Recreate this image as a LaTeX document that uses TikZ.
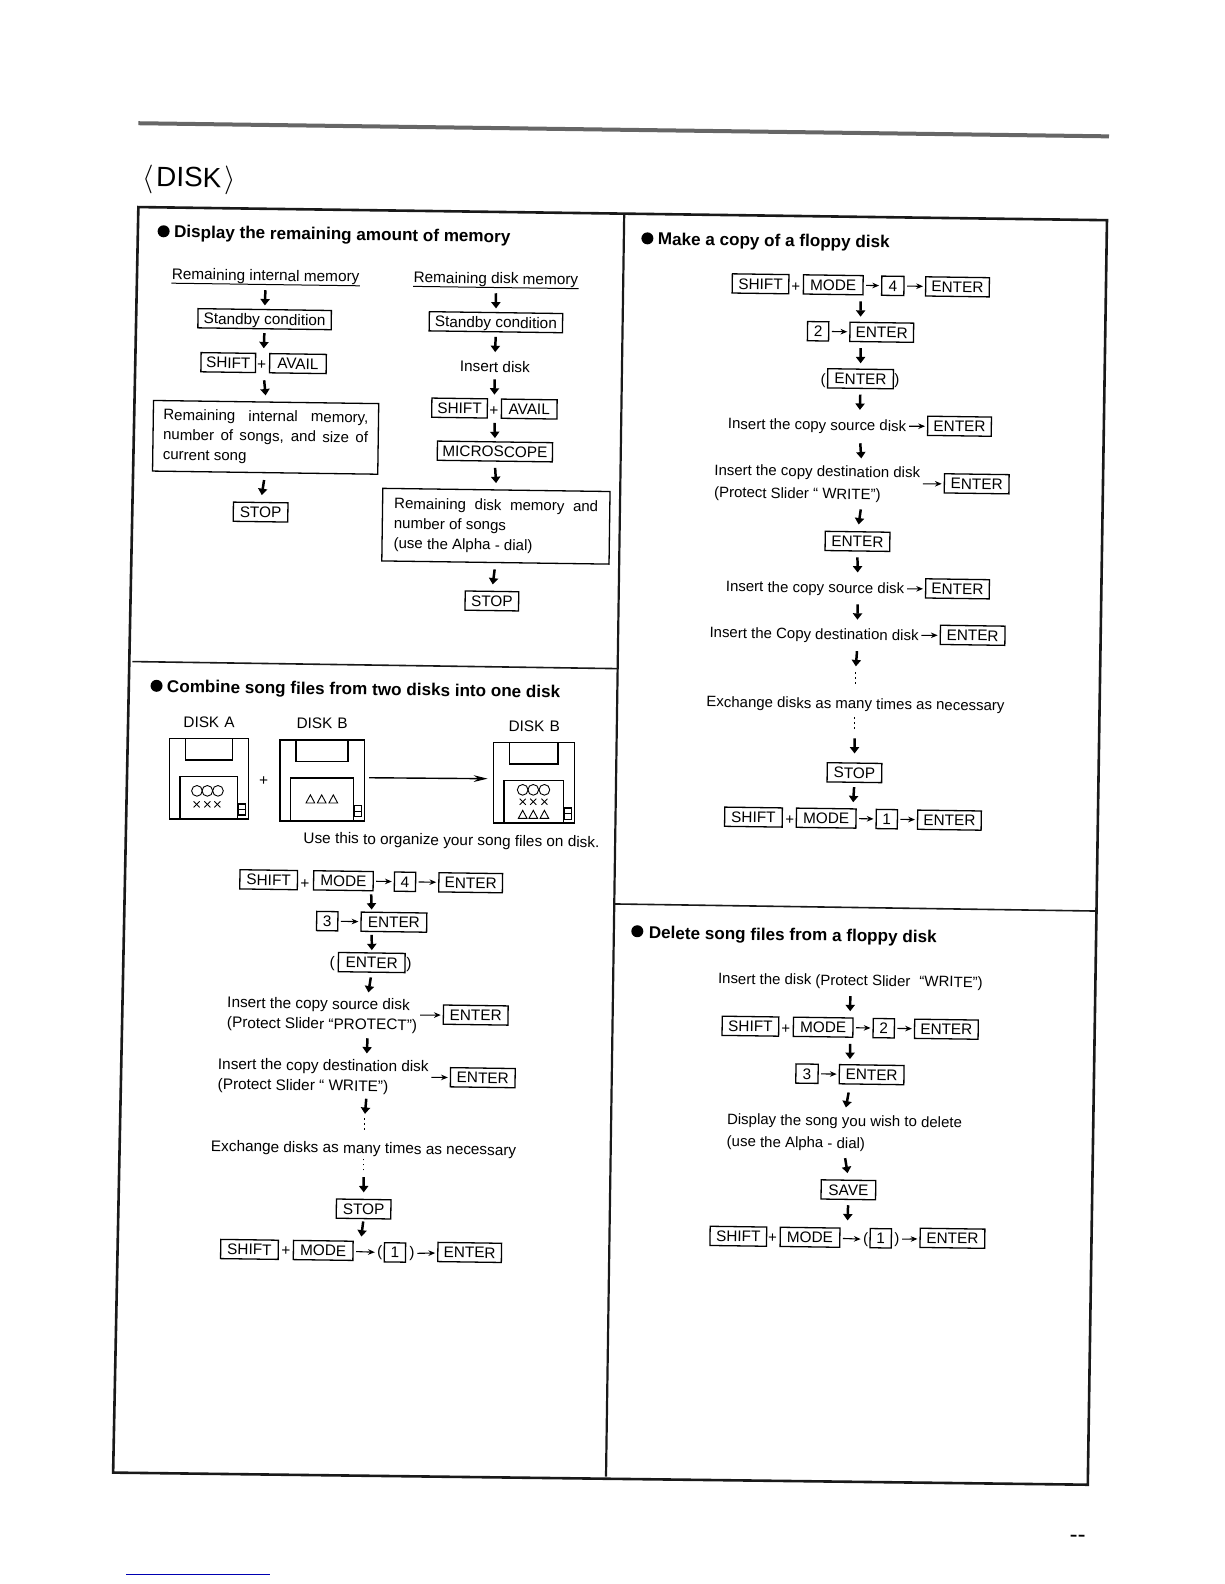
\documentclass[tikz,border=0pt]{standalone}
\usepackage{fontspec}
\setmainfont{Liberation Sans}
\usetikzlibrary{arrows.meta,fit,calc}

\newcommand{\bodyfont}{\fontsize{7.7}{10.1}\selectfont}
\newcommand{\bodyfontr}{\fontsize{7.52}{10.6}\selectfont}
\newcommand{\keyfont}{\fontsize{7.7}{9}\selectfont}
\newcommand{\stackdots}{\vbox{\hrule width0.8bp height0.8bp\vskip1.7bp\hrule width0.8bp height0.8bp\vskip1.7bp\hrule width0.8bp height0.8bp}}
% fixed length arrow in the middle of the gap between two nodes
\newcommand{\flowto}[3][0bp]{\draw[flow, yshift=#1] ($(#2.south)!.5!(#3.north)!-3.8bp!(#3.north)$) -- ($(#2.south)!.5!(#3.north)!3.8bp!(#3.north)$);}

\tikzset{
  keybox/.style={draw, line width=0.65pt, inner sep=0pt, minimum width=#1*0.505bp, minimum height=9.6bp, text height=5.5bp, text depth=0pt, rotate=-0.8, font=\keyfont},
  msg/.style={inner sep=0pt, minimum height=9.6bp, yshift=-1bp, rotate=-0.8, align=left, font=\bodyfont},
  msgr/.style={msg, font=\bodyfontr},
  msgbox/.style={draw, line width=0.65pt, inner sep=0pt, minimum width=#1*0.505bp, rotate=-0.8, align=left, font=\fontsize{7.55}{10}\selectfont},
  head/.style={anchor=west, inner sep=0pt, rotate=-0.8, font=\fontsize{8.58}{10}\selectfont\bfseries},
  headdot/.style={circle, fill, inner sep=0pt, minimum size=6bp},
  rowfit/.style={inner sep=0pt},
  vdotsmark/.style={inner sep=0pt},
  flow/.style={-{Triangle[width=4.6pt,length=3.2pt]}, line width=1.25pt},
  hop/.style={-{Stealth[width=2.8pt,length=3.4pt]}, line width=0.55pt, shorten <=1.2bp, shorten >=1bp},
  frame/.style={line width=1.3bp, black!90},
  floppy/.style={draw, line width=0.7bp, inner sep=0pt}
}

\begin{document}
\begin{tikzpicture}[x=0.505bp, y=-0.505bp]
    \useasboundingbox (0,0) rectangle (1212,1568.3);

    % Top rule and title
    \draw[line width=2bp, black!60] (137,122) -- (1098,135);
    \node[inner sep=0pt, font=\fontsize{14}{15}\selectfont, rotate=-0.8] (title) at (187,178) {$\langle$\kern1.5bp DISK\kern1.5bp$\rangle$};

    % Panels
    \draw[frame] (137,205) -- (1096,218) -- (1077,1470) -- (112,1458) -- cycle;
    \draw[frame, line width=1.1bp] (618,213) -- (600,1462);
    \draw[frame, line width=0.8bp] (131,655) -- (612,662);
    \draw[frame, line width=0.8bp] (609,895) -- (1085,902);

    % Remaining memory
    \node[headdot] (memdot) at (162,229) {};
    \node[head] (memhead) at (172,231) {Display the remaining amount of memory};

    \node[msg] (intitle) at (263,272) {Remaining internal memory};
    \draw[line width=0.5bp] ([yshift=-1.9bp]intitle.base west) -- ([yshift=-1.9bp]intitle.base east);
    \node[keybox=132] (instby) at (262,316) {Standby condition};
    \node[keybox=54] (inshift) at (226,359) {SHIFT};
    \node[msg] (inplus) at (259,360) {+};
    \node[keybox=56] (inavail) at (295,360) {AVAIL};
    \node[rowfit, fit=(inshift)(inavail)] (inrow) {};
    \node[msgbox=223, minimum height=35.3bp] (inbox) at (263,433) {\makebox[102.5bp][s]{Remaining internal memory,}\\\makebox[102.5bp][s]{number of songs, and size of}\\\makebox[102.5bp][l]{current song}};
    \node[keybox=54] (instop) at (258,507) {STOP};
    \foreach \a/\b in {intitle/instby, instby/inrow, inrow/inbox}
      {\flowto{\a}{\b}}
    \flowto[-1.7bp]{inbox}{instop}

    \node[msg] (dtitle) at (491,275) {Remaining disk memory};
    \draw[line width=0.5bp] ([yshift=-1.9bp]dtitle.base west) -- ([yshift=-1.9bp]dtitle.base east);
    \node[keybox=132] (dstby) at (491,319) {Standby condition};
    \node[msg] (dinsert) at (490,361) {Insert disk};
    \node[keybox=55] (dshift) at (455,404) {SHIFT};
    \node[msg] (dplus) at (489,405) {+};
    \node[keybox=55] (davail) at (524,405) {AVAIL};
    \node[rowfit, fit=(dshift)(davail)] (drow) {};
    \node[keybox=114] (dmicro) at (490,447) {MICROSCOPE};
    \node[msgbox=225, minimum height=36.3bp] (dbox) at (491,521) {\makebox[102bp][s]{Remaining disk memory and}\\\makebox[102bp][l]{number of songs}\\\makebox[102bp][l]{(use the Alpha - dial)}};
    \node[keybox=53] (dstop) at (487,595) {STOP};
    \foreach \a/\b in {dtitle/dstby, dstby/dinsert, dinsert/drow, drow/dmicro, dmicro/dbox}
      {\flowto{\a}{\b}}
    \flowto[-1.7bp]{dbox}{dstop}

    % Combine song files
    \node[headdot] (cmbdot) at (155,679) {};
    \node[head] (cmbhead) at (165,681) {Combine song files from two disks into one disk};

    \node[msg] (labela) at (207,713) {DISK\,\,A};
    \node[msg] (labelb) at (319,714) {DISK\,\,B};
    \node[msg] (labelc) at (529,717) {DISK\,\,B};
    \foreach \nm/\xa/\ya/\dw in {diska/167.6/731/78.3, diskb/277.2/732.7/83.5, diskc/488.4/735/80.2} {
      \node[floppy, minimum width=\dw*0.505bp, minimum height=80*0.505bp] (\nm) at (\xa+\dw/2,\ya+40) {};
      \draw[line width=0.7bp] (\xa+16,\ya) -- (\xa+16,\ya+21.5) -- (\xa+\dw-16,\ya+21.5) -- (\xa+\dw-16,\ya);
      \draw[line width=0.7bp] (\xa+10.5,\ya+80) -- (\xa+10.5,\ya+37.5) -- (\xa+\dw-10.8,\ya+37.5) -- (\xa+\dw-10.8,\ya+80);
      \draw[line width=0.6bp] (\xa+\dw-10,\ya+65) rectangle (\xa+\dw-3,\ya+76);
      \draw[line width=0.6bp] (\xa+\dw-10,\ya+70.5) -- (\xa+\dw-3,\ya+70.5);
    }
    \foreach \mx/\my in {195/783, 205.3/783, 215.8/783, 517.5/782, 528/782, 539/782}
      \draw[line width=0.45bp] (\mx,\my) circle (5.3);
    \foreach \mx/\my in {194.7/796.4, 205.3/796.4, 215.2/796.4, 517.5/793.8, 528/793.8, 539/793.8} {
      \draw[line width=0.45bp] (\mx-3,\my-3) -- (\mx+3,\my+3);
      \draw[line width=0.45bp] (\mx-3,\my+3) -- (\mx+3,\my-3);
    }
    \foreach \mx/\my in {307.3/791, 318.5/791, 330/791, 517.5/806.3, 528/806.3, 539/806.3}
      \draw[line width=0.45bp] (\mx-4.3,\my+4) -- (\mx+4.3,\my+4) -- (\mx,\my-4) -- cycle;
    \node[msg] (diskplus) at (261,771) {+};
    \draw[-{Stealth[width=3.4pt,length=7pt]}, line width=0.7bp, shorten <=2bp, shorten >=2.5bp] (diskb.east |- 0,770) -- (diskc.west |- 0,771);
    \node[msg] (cmbnote) at (447,831) {Use this to organize your song files on disk.};

    \node[keybox=57] (cshift) at (266,871) {SHIFT};
    \node[msg] (cplus) at (302,873) {+};
    \node[keybox=59] (cmode) at (340,872) {MODE};
    \node[keybox=21] (cfour) at (401,873) {4};
    \node[keybox=63] (centera) at (466,874) {ENTER};
    \node[rowfit, fit=(cshift)(centera)] (crowa) {};
    \node[keybox=21] (cthree) at (324,912) {3};
    \node[keybox=65] (centerb) at (390,913) {ENTER};
    \node[rowfit, fit=(cthree)(centerb)] (crowb) {};
    \node[msg] (copenp) at (329,952) {(};
    \node[keybox=66] (centerc) at (368,953) {ENTER};
    \node[msg] (cclosep) at (405,953) {)};
    \node[msg] (csource) at (319,1003) {Insert the copy source disk\\(Protect Slider ``PROTECT'')};
    \node[keybox=64] (centerd) at (471,1005) {ENTER};
    \node[rowfit, fit=(csource)(centerd)] (crowc) {};
    \node[msg] (cdest) at (320,1064) {Insert the copy destination disk\\(Protect Slider `` WRITE'')};
    \node[keybox=64] (centere) at (478,1067) {ENTER};
    \node[rowfit, fit=(cdest)(centere)] (crowd) {};
    \node[vdotsmark] (cdotsa) at (361,1113) {\stackdots};
    \node[msg] (cswap) at (360,1136) {Exchange disks as many times as necessary};
    \node[vdotsmark] (cdotsb) at (360,1153) {\stackdots};
    \node[keybox=54] (cstop) at (360,1197) {STOP};
    \node[keybox=57] (cshiftb) at (247,1237) {SHIFT};
    \node[msg] (cplusb) at (283,1237) {+};
    \node[keybox=59] (cmodeb) at (320,1238) {MODE};
    \node[msg] (copenb) at (376,1238) {(};
    \node[keybox=21] (coneb) at (391,1240) {1};
    \node[msg] (ccloseb) at (408,1239) {)};
    \node[keybox=63] (centerf) at (465,1240) {ENTER};
    \node[rowfit, fit=(cshiftb)(centerf)] (crowe) {};
    \foreach \a/\b in {cmode/cfour, cfour/centera, cthree/centerb, csource/centerd, cdest/centere, cmodeb/copenb, ccloseb/centerf}
      \draw[hop] (\a) -- (\b);
    \foreach \a/\b in {crowa/crowb, crowb/centerc, centerc/crowc, crowc/crowd, crowd/cdotsa, cstop/crowe}
      {\flowto{\a}{\b}}
    \flowto[-1.7bp]{cdotsb}{cstop}

    % Copy a floppy disk
    \node[headdot] (cpydot) at (641,236) {};
    \node[head] (cpyhead) at (651,238) {Make a copy of a floppy disk};

    \node[keybox=56] (pshift) at (753,281) {SHIFT};
    \node[msgr] (pplus) at (788,282) {+};
    \node[keybox=59] (pmode) at (825,282) {MODE};
    \node[keybox=22] (pfour) at (884,283) {4};
    \node[keybox=63] (penter) at (948,284) {ENTER};
    \node[rowfit, fit=(pshift)(penter)] (prowa) {};
    \node[keybox=21] (ptwo) at (810,328) {2};
    \node[keybox=63] (penterb) at (873,329) {ENTER};
    \node[rowfit, fit=(ptwo)(penterb)] (prowb) {};
    \node[msgr] (popenp) at (815,375) {(};
    \node[keybox=65] (penterc) at (852,375) {ENTER};
    \node[msgr] (pclosep) at (888,375) {)};
    \node[msgr] (psource) at (809,420) {Insert the copy source disk};
    \node[keybox=63] (penterd) at (950,422) {ENTER};
    \node[rowfit, fit=(psource)(penterd)] (prowc) {};
    \node[msgr] (pdest) at (809,477) {Insert the copy destination disk\\[0.6bp](Protect Slider `` WRITE'')};
    \node[keybox=64] (pentere) at (967,479) {ENTER};
    \node[rowfit, fit=(pdest)(pentere)] (prowd) {};
    \node[keybox=64] (penterf) at (849,536) {ENTER};
    \node[msgr] (psourceb) at (807,581) {Insert the copy source disk};
    \node[keybox=63] (penterg) at (948,583) {ENTER};
    \node[rowfit, fit=(psourceb)(penterg)] (prowe) {};
    \node[msgr] (pdestb) at (806,627) {Insert the Copy destination disk};
    \node[keybox=64] (penterh) at (963,629) {ENTER};
    \node[rowfit, fit=(pdestb)(penterh)] (prowf) {};
    \node[vdotsmark] (pdotsa) at (847,671) {\stackdots};
    \node[msgr] (pswap) at (847,696) {Exchange disks as many times as necessary};
    \node[vdotsmark] (pdotsb) at (846,716) {\stackdots};
    \node[keybox=54] (pstop) at (846,765) {STOP};
    \node[keybox=57] (pshiftb) at (746,809) {SHIFT};
    \node[msgr] (pplusb) at (782,810) {+};
    \node[keybox=59] (pmodeb) at (818,810) {MODE};
    \node[keybox=21] (poneb) at (878,811) {1};
    \node[keybox=63] (penteri) at (940,812) {ENTER};
    \node[rowfit, fit=(pshiftb)(penteri)] (prowg) {};
    \foreach \a/\b in {pmode/pfour, pfour/penter, ptwo/penterb, psource/penterd, pdest/pentere, psourceb/penterg, pdestb/penterh, pmodeb/poneb, poneb/penteri}
      \draw[hop] (\a) -- (\b);
    \foreach \a/\b in {prowa/prowb, prowb/penterc, penterc/prowc, prowc/prowd, prowd/penterf, penterf/prowe, prowe/prowf, prowf/pdotsa, pstop/prowg}
      {\flowto{\a}{\b}}
    \flowto[-1.7bp]{pdotsb}{pstop}

    % Delete song files
    \node[headdot] (deldot) at (631,922) {};
    \node[head] (delhead) at (642,925) {Delete song files from a floppy disk};

    \node[msgr] (xinsert) at (842,970) {Insert the disk (Protect Slider\,\, ``WRITE'')};
    \node[keybox=56] (xshift) at (743,1016) {SHIFT};
    \node[msgr] (xplus) at (778,1017) {+};
    \node[keybox=59] (xmode) at (815,1017) {MODE};
    \node[keybox=21] (xtwo) at (875,1018) {2};
    \node[keybox=63] (xenter) at (937,1019) {ENTER};
    \node[rowfit, fit=(xshift)(xenter)] (xrowa) {};
    \node[keybox=22] (xthree) at (799,1063) {3};
    \node[keybox=64] (xenterb) at (863,1064) {ENTER};
    \node[rowfit, fit=(xthree)(xenterb)] (xrowb) {};
    \node[msgr] (xshow) at (836,1120) {Display the song you wish to delete\\[0.6bp](use the Alpha - dial)};
    \node[keybox=54] (xsave) at (840,1178) {SAVE};
    \node[keybox=56] (xshiftb) at (731,1224) {SHIFT};
    \node[msgr] (xplusb) at (765,1224) {+};
    \node[keybox=59] (xmodeb) at (802,1225) {MODE};
    \node[msgr] (xopenb) at (857,1225) {(};
    \node[keybox=21] (xoneb) at (872,1226) {1};
    \node[msgr] (xcloseb) at (888,1225) {)};
    \node[keybox=64] (xenterc) at (943,1226) {ENTER};
    \node[rowfit, fit=(xshiftb)(xenterc)] (xrowc) {};
    \foreach \a/\b in {xmode/xtwo, xtwo/xenter, xthree/xenterb, xmodeb/xopenb, xcloseb/xenterc}
      \draw[hop] (\a) -- (\b);
    \foreach \a/\b in {xinsert/xrowa, xrowa/xrowb, xrowb/xshow, xshow/xsave, xsave/xrowc}
      {\flowto{\a}{\b}}

    % Page marks
    \node[msg, font=\fontsize{12}{12}\selectfont] (pagemark) at (1067,1522) {{-}{-}};
    \draw[blue!70!black, line width=0.6bp] (125,1559) -- (267,1559);
\end{tikzpicture}
\end{document}
